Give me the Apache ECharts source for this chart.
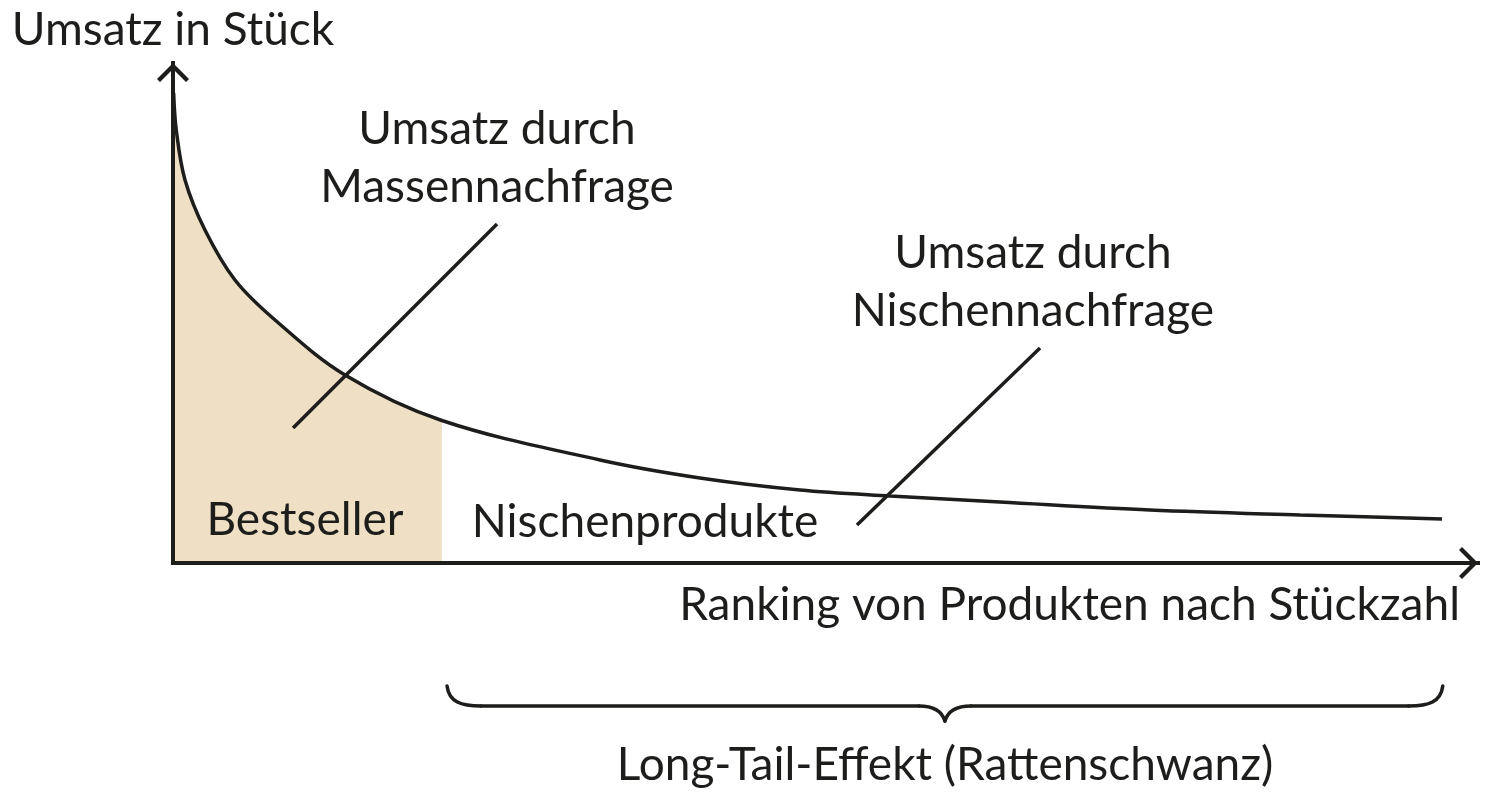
<!DOCTYPE html>
<html><head><meta charset="utf-8">
<script src="https://cdn.jsdelivr.net/npm/echarts@6/dist/echarts.min.js"></script>
<style>html,body{margin:0;padding:0;background:#fff}#c{width:1500px;height:807px}</style>
</head><body><div id="c"></div>
<script>
// Ranking position (0..100) and unit sales (0..100)
const rankX  = [0.05, 0.25, 0.92, 2.45, 4.75, 7.82, 13.18, 20.6, 32.72, 40.38, 48.05, 54.94, 63.37, 74.87, 86.36, 97.24];
const salesY = [94,   86.6, 76.6, 66.6, 56.6, 48.6, 37.6,  28.5, 20.6,  17,    14.6,  13.4,  12.2,  10.6,  9.6,   8.8];
const bestsellerLimit = 20.6;
const leaderMass  = [[9.2, 27], [24.83, 67.8]];
const leaderNiche = [[52.41, 7.6], [66.44, 43]];
const longTailRange = [21.0, 97.3];
const axisTitleY = 'Umsatz in Stück';
const axisTitleX = 'Ranking von Produkten nach Stückzahl';
const labelMass  = 'Umsatz durch\nMassennachfrage';
const labelNiche = 'Umsatz durch\nNischennachfrage';
const labelBest  = 'Bestseller';
const labelNicheProd = 'Nischenprodukte';
const labelLongTail = 'Long-Tail-Effekt (Rattenschwanz)';

const INK = '#1d1d1b';
const FILL = '#efdfc4';
const FONT = 'Lato';
const FS = 46;

const curve = rankX.map((x, i) => [x, salesY[i]]);
const bestArea = curve.filter(p => p[0] <= bestsellerLimit);
const chevron = 'path://M0,16 L16,0 L32,16 L29,19 L16,6 L3,19 Z';

const chart = echarts.init(document.getElementById('c'), null, {renderer: 'canvas'});
const axisCommon = {
  type: 'value', min: 0, max: 100, z: 10,
  splitLine: {show: false}, axisTick: {show: false}, axisLabel: {show: false},
  axisLine: {show: true, symbol: ['none', chevron], symbolSize: [32, 19], symbolOffset: [0, -9.5],
    lineStyle: {color: INK, width: 4, cap: 'square'}}
};
chart.setOption({
  animation: false,
  backgroundColor: '#fff',
  grid: {left: 173, top: 63, right: 22, bottom: 244, containLabel: false},
  xAxis: Object.assign({}, axisCommon),
  yAxis: Object.assign({}, axisCommon, {
    name: axisTitleY, nameLocation: 'end', nameGap: 33,
    nameTextStyle: {fontFamily: FONT, fontSize: FS, color: INK, align: 'center', verticalAlign: 'middle'}
  }),
  series: [
    {type: 'line', name: 'Bestseller', data: bestArea, smooth: 0.35, symbol: 'none',
     lineStyle: {width: 0}, areaStyle: {color: FILL, opacity: 1}, z: 1},
    {type: 'line', name: 'Umsatz', data: curve, smooth: 0.35, symbol: 'none',
     lineStyle: {color: INK, width: 3.5}, z: 3},
    {type: 'line', name: 'leader1', data: leaderMass, symbol: 'none', lineStyle: {color: INK, width: 3.5}, z: 4},
    {type: 'line', name: 'leader2', data: leaderNiche, symbol: 'none', lineStyle: {color: INK, width: 3.5}, z: 4}
  ]
});

const xl = chart.convertToPixel({gridIndex: 0}, [longTailRange[0], 0])[0];
const xr = chart.convertToPixel({gridIndex: 0}, [longTailRange[1], 0])[0];
const mid = (xl + xr) / 2;
const yb = 706, yt = 686, yp = 721;
const bs = {stroke: INK, lineWidth: 3.5, fill: null, lineCap: 'round'};
const bez = (x1, y1, cx1, cy1, cx2, cy2, x2, y2) => ({type: 'bezierCurve', z: 20,
  shape: {x1, y1, cpx1: cx1, cpy1: cy1, cpx2: cx2, cpy2: cy2, x2, y2}, style: bs});
const seg = (x1, y1, x2, y2) => ({type: 'line', z: 20, shape: {x1, y1, x2, y2}, style: bs});
const txt = (text, x, y, align) => ({type: 'text', x, y, z: 20,
  style: {text, fontFamily: FONT, fontSize: FS, fill: INK, align: align || 'center', verticalAlign: 'middle', lineHeight: 58}});
chart.setOption({
  graphic: [
    bez(xl, yt, xl + 2, yb - 4, xl + 14, yb, xl + 34, yb),
    seg(xl + 34, yb, mid - 26, yb),
    bez(mid - 26, yb, mid - 12, yb, mid - 3, yb + 5, mid, yp),
    bez(mid, yp, mid + 3, yb + 5, mid + 12, yb, mid + 26, yb),
    seg(mid + 26, yb, xr - 34, yb),
    bez(xr - 34, yb, xr - 14, yb, xr - 2, yb - 4, xr, yt),
    txt(axisTitleX, 1460, 605, 'right'),
    txt(labelMass, 497, 158),
    txt(labelNiche, 1033, 282),
    txt(labelBest, 305, 520),
    txt(labelNicheProd, 645, 522),
    txt(labelLongTail, 945, 765)
  ]
});
</script></body></html>
